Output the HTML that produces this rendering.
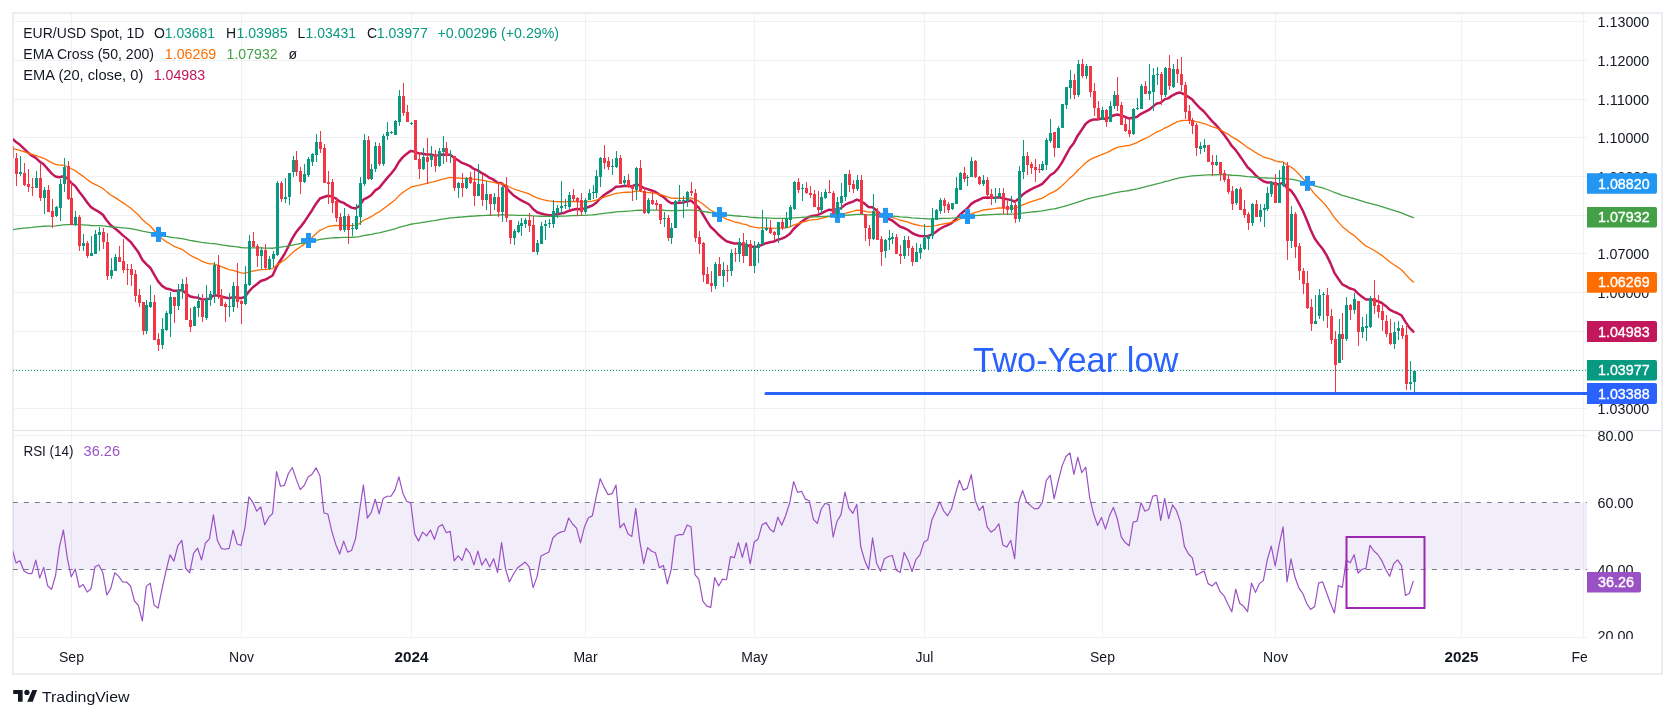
<!DOCTYPE html><html><head><meta charset="utf-8"><style>html,body{margin:0;padding:0;background:#fff;}svg{display:block;will-change:transform}</style></head><body>
<svg width="1675" height="718" viewBox="0 0 1675 718">
<rect width="1675" height="718" fill="#fff"/>
<rect x="13" y="13" width="1649" height="661" fill="none" stroke="#ECEDF2" stroke-width="2"/>
<defs><clipPath id="cp"><rect x="13" y="13" width="1574" height="417"/></clipPath><clipPath id="cr"><rect x="13" y="431" width="1574" height="206.5"/></clipPath><clipPath id="cax"><rect x="1587" y="431" width="74" height="208"/></clipPath><clipPath id="ct"><rect x="13" y="638" width="1574" height="35"/></clipPath></defs>
<line x1="13" y1="21.5" x2="1587" y2="21.5" stroke="#EFF1F2" stroke-width="1"/>
<line x1="13" y1="60.5" x2="1587" y2="60.5" stroke="#EFF1F2" stroke-width="1"/>
<line x1="13" y1="99.5" x2="1587" y2="99.5" stroke="#EFF1F2" stroke-width="1"/>
<line x1="13" y1="137.5" x2="1587" y2="137.5" stroke="#EFF1F2" stroke-width="1"/>
<line x1="13" y1="176.5" x2="1587" y2="176.5" stroke="#EFF1F2" stroke-width="1"/>
<line x1="13" y1="215.5" x2="1587" y2="215.5" stroke="#EFF1F2" stroke-width="1"/>
<line x1="13" y1="253.5" x2="1587" y2="253.5" stroke="#EFF1F2" stroke-width="1"/>
<line x1="13" y1="292.5" x2="1587" y2="292.5" stroke="#EFF1F2" stroke-width="1"/>
<line x1="13" y1="331.5" x2="1587" y2="331.5" stroke="#EFF1F2" stroke-width="1"/>
<line x1="13" y1="369.5" x2="1587" y2="369.5" stroke="#EFF1F2" stroke-width="1"/>
<line x1="13" y1="408.5" x2="1587" y2="408.5" stroke="#EFF1F2" stroke-width="1"/>
<line x1="71.5" y1="13" x2="71.5" y2="637" stroke="#EFF1F2" stroke-width="1"/>
<line x1="241.5" y1="13" x2="241.5" y2="637" stroke="#EFF1F2" stroke-width="1"/>
<line x1="411.5" y1="13" x2="411.5" y2="637" stroke="#EFF1F2" stroke-width="1"/>
<line x1="585.5" y1="13" x2="585.5" y2="637" stroke="#EFF1F2" stroke-width="1"/>
<line x1="754.5" y1="13" x2="754.5" y2="637" stroke="#EFF1F2" stroke-width="1"/>
<line x1="924.5" y1="13" x2="924.5" y2="637" stroke="#EFF1F2" stroke-width="1"/>
<line x1="1102.5" y1="13" x2="1102.5" y2="637" stroke="#EFF1F2" stroke-width="1"/>
<line x1="1275.5" y1="13" x2="1275.5" y2="637" stroke="#EFF1F2" stroke-width="1"/>
<line x1="1461.5" y1="13" x2="1461.5" y2="637" stroke="#EFF1F2" stroke-width="1"/>
<line x1="1583.5" y1="13" x2="1583.5" y2="637" stroke="#EFF1F2" stroke-width="1"/>
<line x1="13" y1="435.5" x2="1587" y2="435.5" stroke="#EFF1F2" stroke-width="1"/>
<line x1="13" y1="637.5" x2="1587" y2="637.5" stroke="#EFF1F2" stroke-width="1"/>
<rect x="13" y="502.5" width="1574" height="67.0" fill="#7E57C2" fill-opacity="0.1"/>
<line x1="12.8" y1="502.5" x2="1587" y2="502.5" stroke="#787B86" stroke-width="1" stroke-dasharray="5 6"/>
<line x1="12.8" y1="569.5" x2="1587" y2="569.5" stroke="#787B86" stroke-width="1" stroke-dasharray="5 6"/>
<g clip-path="url(#cp)">
<polyline points="12.09,138.55 16.04,141.95 19.99,144.86 23.93,148.65 27.88,152.33 31.83,155.70 35.78,157.82 39.72,161.60 43.67,164.28 47.62,168.81 51.56,173.38 55.51,176.60 59.46,177.28 63.41,176.34 67.35,178.47 71.30,182.86 75.25,186.14 79.19,191.81 83.14,196.72 87.09,202.34 91.04,207.17 94.98,209.72 98.93,211.87 102.88,214.77 106.82,220.57 110.77,225.30 114.72,228.31 118.67,231.50 122.61,235.12 126.56,238.40 130.51,241.85 134.46,246.99 138.40,252.30 142.35,259.80 146.30,264.08 150.24,267.71 154.19,274.57 158.14,281.31 162.09,285.87 166.03,288.47 169.98,289.30 173.93,290.84 177.87,290.72 181.82,290.07 185.77,292.97 189.72,296.20 193.66,297.22 197.61,297.62 201.56,299.43 205.50,299.35 209.45,298.85 213.40,295.59 217.35,295.52 221.29,296.51 225.24,297.50 229.19,298.31 233.14,297.14 237.08,297.58 241.03,298.16 244.98,296.81 248.92,291.50 252.87,287.24 256.82,284.24 260.77,280.98 264.71,279.77 268.66,277.79 272.61,275.53 276.55,266.75 280.50,260.27 284.45,254.24 288.40,246.52 292.34,238.32 296.29,231.96 300.24,227.17 304.18,222.14 308.13,216.13 312.08,210.22 316.03,203.72 319.97,198.47 323.92,197.00 327.87,195.77 331.82,196.43 335.76,198.49 339.71,201.50 343.66,202.90 347.60,205.45 351.55,207.60 355.50,208.42 359.45,206.01 363.39,199.72 367.34,197.71 371.29,194.99 375.23,190.35 379.18,187.86 383.13,182.96 387.08,178.14 391.02,173.77 394.97,168.76 398.92,161.83 402.86,157.16 406.81,153.79 410.76,150.88 414.71,151.70 418.65,153.32 422.60,153.69 426.55,154.46 430.50,154.49 434.44,155.54 438.39,155.13 442.34,154.46 446.28,154.65 450.23,154.70 454.18,157.85 458.13,160.24 462.07,162.93 466.02,164.34 469.97,166.12 473.91,168.94 477.86,170.39 481.81,173.18 485.76,175.20 489.70,177.91 493.65,179.74 497.60,182.85 501.54,183.24 505.49,186.55 509.44,191.43 513.39,195.18 517.33,198.05 521.28,200.40 525.23,202.28 529.18,204.49 533.12,208.98 537.07,212.24 541.02,213.55 544.96,214.57 548.91,215.35 552.86,214.93 556.81,214.23 560.75,213.45 564.70,212.66 568.65,210.95 572.59,209.80 576.54,209.01 580.49,209.24 584.44,208.40 588.38,206.97 592.33,205.55 596.28,202.73 600.22,198.46 604.17,195.07 608.12,192.38 612.07,189.87 616.01,186.86 619.96,186.55 623.91,185.95 627.86,186.09 631.80,186.38 635.75,184.60 639.70,185.23 643.64,187.91 647.59,189.10 651.54,190.51 655.49,191.92 659.43,194.56 663.38,196.80 667.33,200.69 671.27,203.25 675.22,203.03 679.17,202.71 683.12,202.42 687.06,201.40 691.01,200.60 694.96,204.13 698.90,207.88 702.85,214.26 706.80,220.85 710.75,227.02 714.69,230.52 718.64,234.81 722.59,238.18 726.54,241.30 730.48,242.44 734.43,243.57 738.38,243.43 742.32,244.67 746.27,244.64 750.22,246.72 754.17,246.73 758.11,246.45 762.06,244.86 766.01,243.22 769.95,242.25 773.90,241.60 777.85,239.74 781.80,238.65 785.74,236.80 789.69,233.97 793.64,229.02 797.58,225.26 801.53,221.73 805.48,219.03 809.43,216.70 813.37,215.75 817.32,215.16 821.27,213.47 825.22,211.45 829.16,209.71 833.11,210.16 837.06,209.36 841.00,208.11 844.95,204.88 848.90,202.99 852.85,201.63 856.79,199.60 860.74,201.00 864.69,203.62 868.63,206.97 872.58,207.35 876.53,210.48 880.48,214.38 884.42,216.80 888.37,218.79 892.32,220.51 896.26,223.65 900.21,226.78 904.16,228.06 908.11,230.00 912.05,233.00 916.00,234.80 919.95,236.08 923.90,236.23 927.84,236.17 931.79,234.46 935.74,232.10 939.68,229.02 943.63,226.83 947.58,225.20 951.53,223.12 955.47,219.77 959.42,215.28 963.37,211.81 967.31,208.46 971.26,203.92 975.21,201.37 979.16,199.74 983.10,197.87 987.05,197.61 991.00,197.76 994.94,197.68 998.89,197.20 1002.84,198.23 1006.79,199.32 1010.73,199.88 1014.68,201.72 1018.63,198.79 1022.58,194.71 1026.52,191.86 1030.47,189.55 1034.42,187.69 1038.36,185.96 1042.31,183.87 1046.26,179.71 1050.21,175.28 1054.15,172.73 1058.10,168.44 1062.05,162.33 1065.99,155.17 1069.94,148.02 1073.89,142.95 1077.84,135.45 1081.78,129.78 1085.73,123.74 1089.68,120.70 1093.62,119.45 1097.57,119.44 1101.52,118.52 1105.47,118.81 1109.41,117.59 1113.36,115.43 1117.31,114.50 1121.26,115.47 1125.20,116.93 1129.15,118.58 1133.10,117.69 1137.04,116.79 1140.99,113.86 1144.94,111.92 1148.89,109.94 1152.83,106.62 1156.78,103.51 1160.73,102.67 1164.67,99.34 1168.62,98.12 1172.57,95.32 1176.52,93.31 1180.46,92.55 1184.41,94.36 1188.36,96.85 1192.30,99.58 1196.25,104.24 1200.20,108.26 1204.15,111.75 1208.09,116.50 1212.04,121.10 1215.99,124.99 1219.94,129.67 1223.88,134.44 1227.83,139.90 1231.78,145.98 1235.72,150.09 1239.67,155.77 1243.62,161.37 1247.57,167.27 1251.51,170.75 1255.46,175.12 1259.41,178.48 1263.35,181.32 1267.30,182.44 1271.25,182.38 1275.20,184.31 1279.14,184.31 1283.09,182.57 1287.04,188.13 1290.98,190.60 1294.93,196.01 1298.88,203.13 1302.83,210.80 1306.77,220.06 1310.72,229.93 1314.67,238.56 1318.62,243.98 1322.56,248.72 1326.51,255.08 1330.46,263.15 1334.40,272.83 1338.35,278.69 1342.30,284.41 1346.25,286.37 1350.19,288.58 1354.14,289.59 1358.09,293.60 1362.03,296.79 1365.98,299.58 1369.93,299.43 1373.88,300.09 1377.82,301.18 1381.77,303.00 1385.72,305.92 1389.66,309.57 1393.61,311.69 1397.56,313.24 1401.51,315.36 1405.45,321.90 1409.40,327.61 1413.35,331.70" fill="none" stroke="#C2185B" stroke-width="2.5" stroke-linejoin="round" stroke-linecap="round"/>
<polyline points="12.09,148.39 16.04,149.41 19.99,150.31 23.93,151.66 27.88,153.06 31.83,154.41 35.78,155.34 39.72,156.99 43.67,158.28 47.62,160.38 51.56,162.59 55.51,164.34 59.46,165.10 63.41,165.19 67.35,166.50 71.30,168.78 75.25,170.68 79.19,173.63 83.14,176.36 87.09,179.47 91.04,182.36 94.98,184.38 98.93,186.26 102.88,188.46 106.82,191.88 110.77,194.95 114.72,197.38 118.67,199.91 122.61,202.64 126.56,205.26 130.51,207.98 134.46,211.43 138.40,215.01 142.35,219.56 146.30,222.90 150.24,226.01 154.19,230.47 158.14,234.97 162.09,238.67 166.03,241.59 169.98,243.77 173.93,246.19 177.87,247.89 181.82,249.30 185.77,252.09 189.72,255.03 193.66,257.06 197.61,258.80 201.56,261.07 205.50,262.54 209.45,263.78 213.40,263.81 217.35,265.03 221.29,266.63 225.24,268.21 229.19,269.70 233.14,270.33 237.08,271.57 241.03,272.82 244.98,273.26 248.92,272.00 252.87,271.01 256.82,270.41 260.77,269.61 264.71,269.56 268.66,269.15 272.61,268.55 276.55,265.21 280.50,262.61 284.45,260.03 288.40,256.62 292.34,252.85 296.29,249.66 300.24,246.99 304.18,244.15 308.13,240.81 312.08,237.41 316.03,233.67 319.97,230.33 323.92,228.47 327.87,226.73 331.82,225.79 335.76,225.49 339.71,225.67 343.66,225.30 347.60,225.47 351.55,225.57 355.50,225.20 359.45,223.55 363.39,220.27 367.34,218.64 371.29,216.70 375.23,213.94 379.18,211.99 383.13,209.02 387.08,206.02 391.02,203.12 394.97,199.91 398.92,195.83 402.86,192.58 406.81,189.80 410.76,187.19 414.71,186.10 418.65,185.42 422.60,184.31 426.55,183.43 430.50,182.31 434.44,181.65 438.39,180.46 442.34,179.19 446.28,178.30 450.23,177.39 454.18,177.80 458.13,178.00 462.07,178.41 466.02,178.38 469.97,178.56 473.91,179.24 477.86,179.43 481.81,180.23 485.76,180.78 489.70,181.68 493.65,182.29 497.60,183.47 501.54,183.60 505.49,184.95 509.44,187.02 513.39,188.74 517.33,190.17 521.28,191.45 525.23,192.58 529.18,193.87 533.12,196.13 537.07,197.98 541.02,199.08 544.96,200.07 548.91,200.95 552.86,201.35 556.81,201.59 560.75,201.76 564.70,201.90 568.65,201.62 572.59,201.51 576.54,201.51 580.49,201.90 584.44,201.84 588.38,201.51 592.33,201.14 596.28,200.15 600.22,198.49 604.17,197.09 608.12,195.91 612.07,194.74 616.01,193.30 619.96,192.93 623.91,192.43 627.86,192.23 631.80,192.11 635.75,191.15 639.70,191.16 643.64,192.03 647.59,192.35 651.54,192.81 655.49,193.30 659.43,194.33 663.38,195.26 667.33,196.92 671.27,198.13 675.22,198.24 679.17,198.29 683.12,198.35 687.06,198.09 691.01,197.89 694.96,199.45 698.90,201.17 702.85,204.06 706.80,207.18 710.75,210.25 714.69,212.35 718.64,214.83 722.59,217.00 726.54,219.12 730.48,220.46 734.43,221.78 738.38,222.58 742.32,223.91 746.27,224.71 750.22,226.35 754.17,227.15 758.11,227.80 762.06,227.88 766.01,227.87 769.95,228.08 773.90,228.36 777.85,228.12 781.80,228.12 785.74,227.77 789.69,226.96 793.64,225.20 797.58,223.80 801.53,222.40 805.48,221.27 809.43,220.22 813.37,219.69 817.32,219.29 821.27,218.43 825.22,217.41 829.16,216.46 833.11,216.38 837.06,215.81 841.00,215.04 844.95,213.44 848.90,212.32 852.85,211.39 856.79,210.18 860.74,210.34 864.69,211.05 868.63,212.14 872.58,212.09 876.53,213.19 880.48,214.70 884.42,215.68 888.37,216.54 892.32,217.34 896.26,218.76 900.21,220.24 904.16,221.02 908.11,222.10 912.05,223.64 916.00,224.75 919.95,225.67 923.90,226.14 927.84,226.51 931.79,226.19 935.74,225.54 939.68,224.53 943.63,223.80 947.58,223.25 951.53,222.47 955.47,221.12 959.42,219.21 963.37,217.63 967.31,216.02 971.26,213.86 975.21,212.42 979.16,211.31 983.10,210.09 987.05,209.50 991.00,209.10 994.94,208.62 998.89,208.00 1002.84,208.00 1006.79,208.06 1010.73,207.95 1014.68,208.39 1018.63,206.92 1022.58,204.92 1026.52,203.35 1030.47,201.95 1034.42,200.70 1038.36,199.47 1042.31,198.08 1046.26,195.81 1050.21,193.36 1054.15,191.60 1058.10,189.09 1062.05,185.77 1065.99,181.90 1069.94,177.91 1073.89,174.65 1077.84,170.31 1081.78,166.61 1085.73,162.68 1089.68,159.90 1093.62,157.85 1097.57,156.34 1101.52,154.51 1105.47,153.22 1109.41,151.37 1113.36,149.16 1117.31,147.45 1121.26,146.56 1125.20,145.94 1129.15,145.48 1133.10,144.06 1137.04,142.66 1140.99,140.44 1144.94,138.60 1148.89,136.73 1152.83,134.32 1156.78,131.95 1160.73,130.49 1164.67,128.03 1168.62,126.40 1172.57,124.14 1176.52,122.18 1180.46,120.74 1184.41,120.37 1188.36,120.38 1192.30,120.58 1196.25,121.67 1200.20,122.65 1204.15,123.52 1208.09,125.01 1212.04,126.57 1215.99,127.96 1219.94,129.77 1223.88,131.73 1227.83,134.09 1231.78,136.82 1235.72,138.87 1239.67,141.65 1243.62,144.51 1247.57,147.60 1251.51,149.80 1255.46,152.43 1259.41,154.70 1263.35,156.80 1267.30,158.22 1271.25,159.15 1275.20,160.85 1279.14,161.77 1283.09,161.94 1287.04,165.04 1290.98,166.96 1294.93,170.12 1298.88,174.06 1302.83,178.36 1306.77,183.45 1310.72,188.95 1314.67,194.11 1318.62,198.08 1322.56,201.83 1326.51,206.29 1330.46,211.53 1334.40,217.54 1338.35,222.12 1342.30,226.69 1346.25,229.76 1350.19,232.89 1354.14,235.49 1358.09,239.27 1362.03,242.71 1365.98,245.98 1369.93,248.02 1373.88,250.31 1377.82,252.71 1381.77,255.36 1385.72,258.43 1389.66,261.79 1393.61,264.54 1397.56,267.03 1401.51,269.71 1405.45,274.19 1409.40,278.42 1413.35,282.03" fill="none" stroke="#FF6D00" stroke-width="1.3" stroke-linejoin="round" stroke-linecap="round"/>
<polyline points="12.09,229.78 16.04,229.23 19.99,228.66 23.93,228.22 27.88,227.82 31.83,227.42 35.78,226.93 39.72,226.63 43.67,226.27 47.62,226.12 51.56,226.03 55.51,225.84 59.46,225.42 63.41,224.85 67.35,224.59 71.30,224.59 75.25,224.51 79.19,224.72 83.14,224.91 87.09,225.22 91.04,225.49 94.98,225.58 98.93,225.64 102.88,225.81 106.82,226.31 110.77,226.74 114.72,227.04 118.67,227.39 122.61,227.81 126.56,228.22 130.51,228.69 134.46,229.35 138.40,230.08 142.35,231.09 146.30,231.82 150.24,232.52 154.19,233.59 158.14,234.70 162.09,235.64 166.03,236.41 169.98,237.02 173.93,237.70 177.87,238.21 181.82,238.67 185.77,239.48 189.72,240.35 193.66,241.01 197.61,241.62 201.56,242.36 205.50,242.92 209.45,243.43 213.40,243.64 217.35,244.15 221.29,244.77 225.24,245.38 229.19,245.99 233.14,246.39 237.08,246.94 241.03,247.50 244.98,247.86 248.92,247.80 252.87,247.79 256.82,247.87 260.77,247.89 264.71,248.09 268.66,248.20 272.61,248.26 276.55,247.61 280.50,247.12 284.45,246.62 288.40,245.89 292.34,245.04 296.29,244.31 300.24,243.69 304.18,243.00 308.13,242.16 312.08,241.29 316.03,240.30 319.97,239.39 323.92,238.83 327.87,238.28 331.82,237.93 335.76,237.73 339.71,237.65 343.66,237.44 347.60,237.36 351.55,237.27 355.50,237.06 359.45,236.52 363.39,235.56 367.34,235.00 371.29,234.34 375.23,233.46 379.18,232.78 383.13,231.82 387.08,230.83 391.02,229.85 394.97,228.76 398.92,227.44 402.86,226.30 406.81,225.26 410.76,224.25 414.71,223.60 418.65,223.06 422.60,222.40 426.55,221.80 430.50,221.13 434.44,220.58 438.39,219.89 442.34,219.17 446.28,218.55 450.23,217.92 454.18,217.62 458.13,217.27 462.07,216.99 466.02,216.60 469.97,216.26 473.91,216.06 477.86,215.74 481.81,215.58 485.76,215.37 489.70,215.25 493.65,215.07 497.60,215.05 501.54,214.77 505.49,214.80 509.44,215.03 513.39,215.19 517.33,215.29 521.28,215.36 525.23,215.41 529.18,215.51 533.12,215.87 537.07,216.14 541.02,216.24 544.96,216.32 548.91,216.38 552.86,216.33 556.81,216.24 560.75,216.14 564.70,216.03 568.65,215.82 572.59,215.65 576.54,215.51 580.49,215.47 584.44,215.32 588.38,215.10 592.33,214.87 596.28,214.48 600.22,213.92 604.17,213.41 608.12,212.95 612.07,212.48 616.01,211.94 619.96,211.66 623.91,211.35 627.86,211.11 631.80,210.89 635.75,210.46 639.70,210.27 643.64,210.30 647.59,210.20 651.54,210.14 655.49,210.09 659.43,210.19 663.38,210.26 667.33,210.54 671.27,210.71 675.22,210.61 679.17,210.50 683.12,210.39 687.06,210.21 691.01,210.04 694.96,210.31 698.90,210.64 702.85,211.28 706.80,212.00 710.75,212.73 714.69,213.24 718.64,213.86 722.59,214.42 726.54,214.98 730.48,215.36 734.43,215.75 738.38,216.01 742.32,216.41 746.27,216.69 750.22,217.19 754.17,217.48 758.11,217.74 762.06,217.86 766.01,217.96 769.95,218.11 773.90,218.28 777.85,218.32 781.80,218.42 785.74,218.43 789.69,218.32 793.64,217.95 797.58,217.67 801.53,217.38 805.48,217.14 809.43,216.92 813.37,216.81 817.32,216.74 821.27,216.55 825.22,216.31 829.16,216.08 833.11,216.06 837.06,215.92 841.00,215.72 844.95,215.31 848.90,215.01 852.85,214.75 856.79,214.40 860.74,214.40 864.69,214.54 868.63,214.78 872.58,214.75 876.53,215.00 880.48,215.36 884.42,215.61 888.37,215.83 892.32,216.03 896.26,216.41 900.21,216.81 904.16,217.04 908.11,217.35 912.05,217.79 916.00,218.13 919.95,218.43 923.90,218.62 927.84,218.79 931.79,218.78 935.74,218.69 939.68,218.51 943.63,218.38 947.58,218.30 951.53,218.15 955.47,217.85 959.42,217.40 963.37,217.01 967.31,216.61 971.26,216.06 975.21,215.67 979.16,215.36 983.10,215.00 987.05,214.81 991.00,214.65 994.94,214.47 998.89,214.26 1002.84,214.20 1006.79,214.15 1010.73,214.06 1014.68,214.11 1018.63,213.68 1022.58,213.11 1026.52,212.63 1030.47,212.18 1034.42,211.76 1038.36,211.34 1042.31,210.87 1046.26,210.17 1050.21,209.40 1054.15,208.79 1058.10,207.99 1062.05,206.96 1065.99,205.76 1069.94,204.51 1073.89,203.42 1077.84,202.04 1081.78,200.78 1085.73,199.44 1089.68,198.37 1093.62,197.47 1097.57,196.69 1101.52,195.83 1105.47,195.09 1109.41,194.20 1113.36,193.21 1117.31,192.34 1121.26,191.67 1125.20,191.06 1129.15,190.50 1133.10,189.69 1137.04,188.88 1140.99,187.86 1144.94,186.92 1148.89,185.96 1152.83,184.86 1156.78,183.76 1160.73,182.87 1164.67,181.73 1168.62,180.78 1172.57,179.66 1176.52,178.61 1180.46,177.69 1184.41,177.03 1188.36,176.46 1192.30,175.96 1196.25,175.68 1200.20,175.39 1204.15,175.09 1208.09,174.96 1212.04,174.86 1215.99,174.73 1219.94,174.72 1223.88,174.77 1227.83,174.94 1231.78,175.23 1235.72,175.37 1239.67,175.71 1243.62,176.09 1247.57,176.56 1251.51,176.83 1255.46,177.23 1259.41,177.56 1263.35,177.87 1267.30,178.02 1271.25,178.06 1275.20,178.30 1279.14,178.36 1283.09,178.24 1287.04,178.86 1290.98,179.21 1294.93,179.89 1298.88,180.79 1302.83,181.82 1306.77,183.07 1310.72,184.47 1314.67,185.83 1318.62,186.92 1322.56,187.98 1326.51,189.25 1330.46,190.75 1334.40,192.48 1338.35,193.89 1342.30,195.33 1346.25,196.42 1350.19,197.55 1354.14,198.56 1358.09,199.89 1362.03,201.15 1365.98,202.39 1369.93,203.35 1373.88,204.37 1377.82,205.44 1381.77,206.58 1385.72,207.85 1389.66,209.20 1393.61,210.42 1397.56,211.59 1401.51,212.82 1405.45,214.53 1409.40,216.19 1413.35,217.73" fill="none" stroke="#43A047" stroke-width="1.3" stroke-linejoin="round" stroke-linecap="round"/>
</g>
<rect x="151.0" y="232.0" width="15" height="4.8" fill="#2196F3"/><rect x="156.0" y="226.9" width="5" height="15" fill="#2196F3"/>
<rect x="301.0" y="238.1" width="15" height="4.8" fill="#2196F3"/><rect x="306.0" y="233.0" width="5" height="15" fill="#2196F3"/>
<rect x="712.0" y="212.1" width="15" height="4.8" fill="#2196F3"/><rect x="717.0" y="207.0" width="5" height="15" fill="#2196F3"/>
<rect x="830.0" y="213.0" width="15" height="4.8" fill="#2196F3"/><rect x="835.0" y="207.9" width="5" height="15" fill="#2196F3"/>
<rect x="878.0" y="213.0" width="15" height="4.8" fill="#2196F3"/><rect x="883.0" y="207.9" width="5" height="15" fill="#2196F3"/>
<rect x="960.0" y="214.1" width="15" height="4.8" fill="#2196F3"/><rect x="965.0" y="209.0" width="5" height="15" fill="#2196F3"/>
<rect x="1300.0" y="181.0" width="15" height="4.8" fill="#2196F3"/><rect x="1305.0" y="175.9" width="5" height="15" fill="#2196F3"/>
<g clip-path="url(#cp)">
<rect x="12" y="145" width="1" height="14" fill="#F23645" opacity="0.6"/>
<rect x="11" y="146" width="3" height="12" fill="#F23645" opacity="0.6"/>
<rect x="16" y="153" width="1" height="33" fill="#F23645"/>
<rect x="15" y="158" width="3" height="16" fill="#F23645"/>
<rect x="20" y="156" width="1" height="20" fill="#089981"/>
<rect x="19" y="172" width="3" height="2" fill="#089981"/>
<rect x="24" y="163" width="1" height="23" fill="#F23645"/>
<rect x="23" y="173" width="3" height="12" fill="#F23645"/>
<rect x="28" y="169" width="1" height="23" fill="#F23645"/>
<rect x="27" y="184" width="3" height="3" fill="#F23645"/>
<rect x="32" y="178" width="1" height="18" fill="#F23645"/>
<rect x="31" y="187" width="3" height="1" fill="#F23645"/>
<rect x="36" y="171" width="1" height="17" fill="#089981"/>
<rect x="35" y="178" width="3" height="10" fill="#089981"/>
<rect x="40" y="164" width="1" height="37" fill="#F23645"/>
<rect x="39" y="178" width="3" height="20" fill="#F23645"/>
<rect x="44" y="187" width="1" height="27" fill="#089981"/>
<rect x="43" y="190" width="3" height="8" fill="#089981"/>
<rect x="48" y="185" width="1" height="27" fill="#F23645"/>
<rect x="47" y="190" width="3" height="22" fill="#F23645"/>
<rect x="52" y="199" width="1" height="29" fill="#F23645"/>
<rect x="51" y="211" width="3" height="6" fill="#F23645"/>
<rect x="56" y="206" width="1" height="11" fill="#089981"/>
<rect x="55" y="207" width="3" height="9" fill="#089981"/>
<rect x="60" y="179" width="1" height="42" fill="#089981"/>
<rect x="59" y="184" width="3" height="24" fill="#089981"/>
<rect x="64" y="158" width="1" height="34" fill="#089981"/>
<rect x="63" y="167" width="3" height="17" fill="#089981"/>
<rect x="68" y="161" width="1" height="39" fill="#F23645"/>
<rect x="67" y="166" width="3" height="33" fill="#F23645"/>
<rect x="71" y="182" width="1" height="43" fill="#F23645"/>
<rect x="70" y="198" width="3" height="27" fill="#F23645"/>
<rect x="75" y="211" width="1" height="15" fill="#089981"/>
<rect x="74" y="217" width="3" height="8" fill="#089981"/>
<rect x="79" y="215" width="1" height="36" fill="#F23645"/>
<rect x="78" y="217" width="3" height="29" fill="#F23645"/>
<rect x="83" y="234" width="1" height="17" fill="#089981"/>
<rect x="82" y="243" width="3" height="3" fill="#089981"/>
<rect x="87" y="241" width="1" height="17" fill="#F23645"/>
<rect x="86" y="243" width="3" height="13" fill="#F23645"/>
<rect x="91" y="236" width="1" height="20" fill="#089981"/>
<rect x="90" y="253" width="3" height="3" fill="#089981"/>
<rect x="95" y="230" width="1" height="24" fill="#089981"/>
<rect x="94" y="234" width="3" height="20" fill="#089981"/>
<rect x="99" y="227" width="1" height="24" fill="#089981"/>
<rect x="98" y="232" width="3" height="3" fill="#089981"/>
<rect x="103" y="228" width="1" height="21" fill="#F23645"/>
<rect x="102" y="232" width="3" height="10" fill="#F23645"/>
<rect x="107" y="233" width="1" height="47" fill="#F23645"/>
<rect x="106" y="242" width="3" height="34" fill="#F23645"/>
<rect x="111" y="258" width="1" height="21" fill="#089981"/>
<rect x="110" y="270" width="3" height="6" fill="#089981"/>
<rect x="115" y="254" width="1" height="17" fill="#089981"/>
<rect x="114" y="257" width="3" height="14" fill="#089981"/>
<rect x="119" y="246" width="1" height="16" fill="#F23645"/>
<rect x="118" y="257" width="3" height="5" fill="#F23645"/>
<rect x="123" y="239" width="1" height="34" fill="#F23645"/>
<rect x="122" y="261" width="3" height="9" fill="#F23645"/>
<rect x="127" y="264" width="1" height="21" fill="#F23645"/>
<rect x="126" y="269" width="3" height="1" fill="#F23645"/>
<rect x="131" y="264" width="1" height="22" fill="#F23645"/>
<rect x="130" y="269" width="3" height="6" fill="#F23645"/>
<rect x="135" y="270" width="1" height="32" fill="#F23645"/>
<rect x="134" y="274" width="3" height="22" fill="#F23645"/>
<rect x="139" y="289" width="1" height="18" fill="#F23645"/>
<rect x="138" y="295" width="3" height="8" fill="#F23645"/>
<rect x="143" y="302" width="1" height="33" fill="#F23645"/>
<rect x="142" y="302" width="3" height="29" fill="#F23645"/>
<rect x="146" y="300" width="1" height="34" fill="#089981"/>
<rect x="145" y="305" width="3" height="26" fill="#089981"/>
<rect x="150" y="285" width="1" height="23" fill="#089981"/>
<rect x="149" y="302" width="3" height="5" fill="#089981"/>
<rect x="154" y="295" width="1" height="45" fill="#F23645"/>
<rect x="153" y="302" width="3" height="38" fill="#F23645"/>
<rect x="158" y="333" width="1" height="18" fill="#F23645"/>
<rect x="157" y="339" width="3" height="6" fill="#F23645"/>
<rect x="162" y="318" width="1" height="31" fill="#089981"/>
<rect x="161" y="329" width="3" height="16" fill="#089981"/>
<rect x="166" y="311" width="1" height="20" fill="#089981"/>
<rect x="165" y="313" width="3" height="17" fill="#089981"/>
<rect x="170" y="292" width="1" height="45" fill="#089981"/>
<rect x="169" y="297" width="3" height="17" fill="#089981"/>
<rect x="174" y="297" width="1" height="26" fill="#F23645"/>
<rect x="173" y="297" width="3" height="9" fill="#F23645"/>
<rect x="178" y="284" width="1" height="26" fill="#089981"/>
<rect x="177" y="290" width="3" height="16" fill="#089981"/>
<rect x="182" y="279" width="1" height="20" fill="#089981"/>
<rect x="181" y="284" width="3" height="7" fill="#089981"/>
<rect x="186" y="277" width="1" height="43" fill="#F23645"/>
<rect x="185" y="284" width="3" height="36" fill="#F23645"/>
<rect x="190" y="308" width="1" height="24" fill="#F23645"/>
<rect x="189" y="320" width="3" height="7" fill="#F23645"/>
<rect x="194" y="306" width="1" height="20" fill="#089981"/>
<rect x="193" y="307" width="3" height="19" fill="#089981"/>
<rect x="198" y="294" width="1" height="23" fill="#089981"/>
<rect x="197" y="301" width="3" height="7" fill="#089981"/>
<rect x="202" y="294" width="1" height="28" fill="#F23645"/>
<rect x="201" y="301" width="3" height="16" fill="#F23645"/>
<rect x="206" y="285" width="1" height="35" fill="#089981"/>
<rect x="205" y="299" width="3" height="19" fill="#089981"/>
<rect x="210" y="291" width="1" height="15" fill="#089981"/>
<rect x="209" y="294" width="3" height="6" fill="#089981"/>
<rect x="214" y="262" width="1" height="41" fill="#089981"/>
<rect x="213" y="265" width="3" height="30" fill="#089981"/>
<rect x="218" y="255" width="1" height="44" fill="#F23645"/>
<rect x="217" y="265" width="3" height="30" fill="#F23645"/>
<rect x="221" y="289" width="1" height="17" fill="#F23645"/>
<rect x="220" y="296" width="3" height="10" fill="#F23645"/>
<rect x="225" y="302" width="1" height="20" fill="#F23645"/>
<rect x="224" y="304" width="3" height="3" fill="#F23645"/>
<rect x="229" y="293" width="1" height="24" fill="#089981"/>
<rect x="228" y="306" width="3" height="1" fill="#089981"/>
<rect x="233" y="282" width="1" height="30" fill="#089981"/>
<rect x="232" y="286" width="3" height="21" fill="#089981"/>
<rect x="237" y="263" width="1" height="45" fill="#F23645"/>
<rect x="236" y="286" width="3" height="16" fill="#F23645"/>
<rect x="241" y="300" width="1" height="24" fill="#F23645"/>
<rect x="240" y="301" width="3" height="3" fill="#F23645"/>
<rect x="245" y="266" width="1" height="39" fill="#089981"/>
<rect x="244" y="284" width="3" height="20" fill="#089981"/>
<rect x="249" y="235" width="1" height="51" fill="#089981"/>
<rect x="248" y="241" width="3" height="44" fill="#089981"/>
<rect x="253" y="232" width="1" height="15" fill="#F23645"/>
<rect x="252" y="241" width="3" height="6" fill="#F23645"/>
<rect x="257" y="244" width="1" height="23" fill="#F23645"/>
<rect x="256" y="246" width="3" height="10" fill="#F23645"/>
<rect x="261" y="247" width="1" height="22" fill="#089981"/>
<rect x="260" y="250" width="3" height="6" fill="#089981"/>
<rect x="265" y="244" width="1" height="25" fill="#F23645"/>
<rect x="264" y="250" width="3" height="18" fill="#F23645"/>
<rect x="269" y="256" width="1" height="14" fill="#089981"/>
<rect x="268" y="259" width="3" height="10" fill="#089981"/>
<rect x="273" y="251" width="1" height="16" fill="#089981"/>
<rect x="272" y="254" width="3" height="5" fill="#089981"/>
<rect x="277" y="181" width="1" height="75" fill="#089981"/>
<rect x="276" y="183" width="3" height="72" fill="#089981"/>
<rect x="281" y="181" width="1" height="21" fill="#F23645"/>
<rect x="280" y="183" width="3" height="16" fill="#F23645"/>
<rect x="285" y="178" width="1" height="25" fill="#089981"/>
<rect x="284" y="197" width="3" height="2" fill="#089981"/>
<rect x="289" y="173" width="1" height="32" fill="#089981"/>
<rect x="288" y="173" width="3" height="24" fill="#089981"/>
<rect x="293" y="156" width="1" height="21" fill="#089981"/>
<rect x="292" y="160" width="3" height="12" fill="#089981"/>
<rect x="296" y="151" width="1" height="25" fill="#F23645"/>
<rect x="295" y="160" width="3" height="12" fill="#F23645"/>
<rect x="300" y="167" width="1" height="27" fill="#F23645"/>
<rect x="299" y="171" width="3" height="11" fill="#F23645"/>
<rect x="304" y="164" width="1" height="19" fill="#089981"/>
<rect x="303" y="174" width="3" height="8" fill="#089981"/>
<rect x="308" y="157" width="1" height="20" fill="#089981"/>
<rect x="307" y="159" width="3" height="16" fill="#089981"/>
<rect x="312" y="153" width="1" height="13" fill="#089981"/>
<rect x="311" y="154" width="3" height="8" fill="#089981"/>
<rect x="316" y="134" width="1" height="28" fill="#089981"/>
<rect x="315" y="142" width="3" height="13" fill="#089981"/>
<rect x="320" y="131" width="1" height="22" fill="#F23645"/>
<rect x="319" y="142" width="3" height="7" fill="#F23645"/>
<rect x="324" y="144" width="1" height="39" fill="#F23645"/>
<rect x="323" y="148" width="3" height="35" fill="#F23645"/>
<rect x="328" y="171" width="1" height="33" fill="#F23645"/>
<rect x="327" y="182" width="3" height="2" fill="#F23645"/>
<rect x="332" y="179" width="1" height="34" fill="#F23645"/>
<rect x="331" y="182" width="3" height="21" fill="#F23645"/>
<rect x="336" y="197" width="1" height="25" fill="#F23645"/>
<rect x="335" y="201" width="3" height="17" fill="#F23645"/>
<rect x="340" y="213" width="1" height="18" fill="#F23645"/>
<rect x="339" y="217" width="3" height="13" fill="#F23645"/>
<rect x="344" y="208" width="1" height="24" fill="#089981"/>
<rect x="343" y="216" width="3" height="14" fill="#089981"/>
<rect x="348" y="214" width="1" height="30" fill="#F23645"/>
<rect x="347" y="216" width="3" height="14" fill="#F23645"/>
<rect x="352" y="223" width="1" height="13" fill="#089981"/>
<rect x="351" y="228" width="3" height="1" fill="#089981"/>
<rect x="356" y="204" width="1" height="26" fill="#089981"/>
<rect x="355" y="216" width="3" height="13" fill="#089981"/>
<rect x="360" y="177" width="1" height="48" fill="#089981"/>
<rect x="359" y="183" width="3" height="34" fill="#089981"/>
<rect x="364" y="134" width="1" height="52" fill="#089981"/>
<rect x="363" y="140" width="3" height="44" fill="#089981"/>
<rect x="368" y="136" width="1" height="44" fill="#F23645"/>
<rect x="367" y="140" width="3" height="39" fill="#F23645"/>
<rect x="371" y="164" width="1" height="16" fill="#089981"/>
<rect x="370" y="169" width="3" height="10" fill="#089981"/>
<rect x="375" y="142" width="1" height="30" fill="#089981"/>
<rect x="374" y="146" width="3" height="23" fill="#089981"/>
<rect x="379" y="143" width="1" height="23" fill="#F23645"/>
<rect x="378" y="146" width="3" height="18" fill="#F23645"/>
<rect x="383" y="134" width="1" height="32" fill="#089981"/>
<rect x="382" y="136" width="3" height="28" fill="#089981"/>
<rect x="387" y="122" width="1" height="18" fill="#089981"/>
<rect x="386" y="132" width="3" height="4" fill="#089981"/>
<rect x="391" y="131" width="1" height="3" fill="#089981"/>
<rect x="390" y="132" width="3" height="1" fill="#089981"/>
<rect x="395" y="120" width="1" height="15" fill="#089981"/>
<rect x="394" y="121" width="3" height="14" fill="#089981"/>
<rect x="399" y="90" width="1" height="36" fill="#089981"/>
<rect x="398" y="96" width="3" height="26" fill="#089981"/>
<rect x="403" y="83" width="1" height="33" fill="#F23645"/>
<rect x="402" y="96" width="3" height="17" fill="#F23645"/>
<rect x="407" y="105" width="1" height="17" fill="#F23645"/>
<rect x="406" y="112" width="3" height="10" fill="#F23645"/>
<rect x="411" y="122" width="1" height="3" fill="#089981"/>
<rect x="410" y="123" width="3" height="1" fill="#089981"/>
<rect x="415" y="120" width="1" height="40" fill="#F23645"/>
<rect x="414" y="120" width="3" height="40" fill="#F23645"/>
<rect x="419" y="152" width="1" height="27" fill="#F23645"/>
<rect x="418" y="159" width="3" height="10" fill="#F23645"/>
<rect x="423" y="148" width="1" height="22" fill="#089981"/>
<rect x="422" y="157" width="3" height="12" fill="#089981"/>
<rect x="427" y="138" width="1" height="46" fill="#F23645"/>
<rect x="426" y="157" width="3" height="5" fill="#F23645"/>
<rect x="431" y="146" width="1" height="21" fill="#089981"/>
<rect x="430" y="155" width="3" height="5" fill="#089981"/>
<rect x="435" y="150" width="1" height="22" fill="#F23645"/>
<rect x="434" y="155" width="3" height="11" fill="#F23645"/>
<rect x="439" y="148" width="1" height="19" fill="#089981"/>
<rect x="438" y="151" width="3" height="15" fill="#089981"/>
<rect x="443" y="136" width="1" height="28" fill="#089981"/>
<rect x="442" y="148" width="3" height="4" fill="#089981"/>
<rect x="446" y="142" width="1" height="20" fill="#F23645"/>
<rect x="445" y="148" width="3" height="8" fill="#F23645"/>
<rect x="450" y="150" width="1" height="13" fill="#089981"/>
<rect x="449" y="155" width="3" height="1" fill="#089981"/>
<rect x="454" y="156" width="1" height="35" fill="#F23645"/>
<rect x="453" y="156" width="3" height="32" fill="#F23645"/>
<rect x="458" y="182" width="1" height="16" fill="#089981"/>
<rect x="457" y="183" width="3" height="5" fill="#089981"/>
<rect x="462" y="173" width="1" height="24" fill="#F23645"/>
<rect x="461" y="183" width="3" height="5" fill="#F23645"/>
<rect x="466" y="177" width="1" height="12" fill="#089981"/>
<rect x="465" y="178" width="3" height="10" fill="#089981"/>
<rect x="470" y="172" width="1" height="12" fill="#F23645"/>
<rect x="469" y="177" width="3" height="6" fill="#F23645"/>
<rect x="474" y="170" width="1" height="36" fill="#F23645"/>
<rect x="473" y="182" width="3" height="14" fill="#F23645"/>
<rect x="478" y="164" width="1" height="32" fill="#089981"/>
<rect x="477" y="184" width="3" height="12" fill="#089981"/>
<rect x="482" y="175" width="1" height="31" fill="#F23645"/>
<rect x="481" y="184" width="3" height="16" fill="#F23645"/>
<rect x="486" y="181" width="1" height="29" fill="#089981"/>
<rect x="485" y="194" width="3" height="6" fill="#089981"/>
<rect x="490" y="194" width="1" height="22" fill="#F23645"/>
<rect x="489" y="194" width="3" height="10" fill="#F23645"/>
<rect x="494" y="193" width="1" height="17" fill="#089981"/>
<rect x="493" y="197" width="3" height="7" fill="#089981"/>
<rect x="498" y="182" width="1" height="35" fill="#F23645"/>
<rect x="497" y="197" width="3" height="15" fill="#F23645"/>
<rect x="502" y="186" width="1" height="36" fill="#089981"/>
<rect x="501" y="187" width="3" height="25" fill="#089981"/>
<rect x="506" y="177" width="1" height="45" fill="#F23645"/>
<rect x="505" y="186" width="3" height="32" fill="#F23645"/>
<rect x="510" y="220" width="1" height="24" fill="#F23645"/>
<rect x="509" y="220" width="3" height="18" fill="#F23645"/>
<rect x="514" y="229" width="1" height="16" fill="#089981"/>
<rect x="513" y="231" width="3" height="7" fill="#089981"/>
<rect x="518" y="221" width="1" height="12" fill="#089981"/>
<rect x="517" y="225" width="3" height="7" fill="#089981"/>
<rect x="521" y="218" width="1" height="18" fill="#089981"/>
<rect x="520" y="223" width="3" height="3" fill="#089981"/>
<rect x="525" y="218" width="1" height="10" fill="#089981"/>
<rect x="524" y="220" width="3" height="4" fill="#089981"/>
<rect x="529" y="213" width="1" height="19" fill="#F23645"/>
<rect x="528" y="220" width="3" height="6" fill="#F23645"/>
<rect x="533" y="216" width="1" height="36" fill="#F23645"/>
<rect x="532" y="225" width="3" height="27" fill="#F23645"/>
<rect x="537" y="240" width="1" height="15" fill="#089981"/>
<rect x="536" y="243" width="3" height="9" fill="#089981"/>
<rect x="541" y="222" width="1" height="22" fill="#089981"/>
<rect x="540" y="226" width="3" height="18" fill="#089981"/>
<rect x="545" y="220" width="1" height="20" fill="#089981"/>
<rect x="544" y="224" width="3" height="2" fill="#089981"/>
<rect x="549" y="219" width="1" height="9" fill="#089981"/>
<rect x="548" y="223" width="3" height="1" fill="#089981"/>
<rect x="553" y="200" width="1" height="28" fill="#089981"/>
<rect x="552" y="211" width="3" height="13" fill="#089981"/>
<rect x="557" y="205" width="1" height="13" fill="#089981"/>
<rect x="556" y="208" width="3" height="5" fill="#089981"/>
<rect x="561" y="181" width="1" height="33" fill="#089981"/>
<rect x="560" y="206" width="3" height="2" fill="#089981"/>
<rect x="565" y="199" width="1" height="10" fill="#089981"/>
<rect x="564" y="205" width="3" height="1" fill="#089981"/>
<rect x="569" y="192" width="1" height="17" fill="#089981"/>
<rect x="568" y="195" width="3" height="12" fill="#089981"/>
<rect x="573" y="189" width="1" height="13" fill="#F23645"/>
<rect x="572" y="195" width="3" height="4" fill="#F23645"/>
<rect x="577" y="197" width="1" height="19" fill="#F23645"/>
<rect x="576" y="198" width="3" height="4" fill="#F23645"/>
<rect x="581" y="193" width="1" height="23" fill="#F23645"/>
<rect x="580" y="200" width="3" height="12" fill="#F23645"/>
<rect x="585" y="198" width="1" height="16" fill="#089981"/>
<rect x="584" y="200" width="3" height="12" fill="#089981"/>
<rect x="589" y="189" width="1" height="11" fill="#089981"/>
<rect x="588" y="193" width="3" height="7" fill="#089981"/>
<rect x="593" y="185" width="1" height="14" fill="#089981"/>
<rect x="592" y="192" width="3" height="1" fill="#089981"/>
<rect x="596" y="170" width="1" height="28" fill="#089981"/>
<rect x="595" y="176" width="3" height="17" fill="#089981"/>
<rect x="600" y="157" width="1" height="30" fill="#089981"/>
<rect x="599" y="158" width="3" height="19" fill="#089981"/>
<rect x="604" y="145" width="1" height="24" fill="#F23645"/>
<rect x="603" y="158" width="3" height="5" fill="#F23645"/>
<rect x="608" y="157" width="1" height="13" fill="#F23645"/>
<rect x="607" y="161" width="3" height="6" fill="#F23645"/>
<rect x="612" y="159" width="1" height="16" fill="#089981"/>
<rect x="611" y="166" width="3" height="1" fill="#089981"/>
<rect x="616" y="151" width="1" height="17" fill="#089981"/>
<rect x="615" y="158" width="3" height="9" fill="#089981"/>
<rect x="620" y="155" width="1" height="29" fill="#F23645"/>
<rect x="619" y="158" width="3" height="26" fill="#F23645"/>
<rect x="624" y="176" width="1" height="10" fill="#089981"/>
<rect x="623" y="180" width="3" height="3" fill="#089981"/>
<rect x="628" y="174" width="1" height="14" fill="#F23645"/>
<rect x="627" y="180" width="3" height="7" fill="#F23645"/>
<rect x="632" y="185" width="1" height="16" fill="#F23645"/>
<rect x="631" y="186" width="3" height="3" fill="#F23645"/>
<rect x="636" y="167" width="1" height="33" fill="#089981"/>
<rect x="635" y="168" width="3" height="22" fill="#089981"/>
<rect x="640" y="160" width="1" height="32" fill="#F23645"/>
<rect x="639" y="168" width="3" height="23" fill="#F23645"/>
<rect x="644" y="188" width="1" height="26" fill="#F23645"/>
<rect x="643" y="191" width="3" height="22" fill="#F23645"/>
<rect x="648" y="198" width="1" height="16" fill="#089981"/>
<rect x="647" y="200" width="3" height="13" fill="#089981"/>
<rect x="652" y="191" width="1" height="14" fill="#F23645"/>
<rect x="651" y="200" width="3" height="4" fill="#F23645"/>
<rect x="656" y="200" width="1" height="10" fill="#F23645"/>
<rect x="655" y="203" width="3" height="2" fill="#F23645"/>
<rect x="660" y="204" width="1" height="20" fill="#F23645"/>
<rect x="659" y="204" width="3" height="16" fill="#F23645"/>
<rect x="664" y="212" width="1" height="15" fill="#089981"/>
<rect x="663" y="218" width="3" height="1" fill="#089981"/>
<rect x="668" y="215" width="1" height="26" fill="#F23645"/>
<rect x="667" y="218" width="3" height="20" fill="#F23645"/>
<rect x="671" y="223" width="1" height="21" fill="#089981"/>
<rect x="670" y="228" width="3" height="10" fill="#089981"/>
<rect x="675" y="200" width="1" height="28" fill="#089981"/>
<rect x="674" y="201" width="3" height="27" fill="#089981"/>
<rect x="679" y="185" width="1" height="17" fill="#089981"/>
<rect x="678" y="200" width="3" height="1" fill="#089981"/>
<rect x="683" y="196" width="1" height="22" fill="#089981"/>
<rect x="682" y="200" width="3" height="1" fill="#089981"/>
<rect x="687" y="191" width="1" height="16" fill="#089981"/>
<rect x="686" y="192" width="3" height="9" fill="#089981"/>
<rect x="691" y="182" width="1" height="14" fill="#F23645"/>
<rect x="690" y="191" width="3" height="2" fill="#F23645"/>
<rect x="695" y="189" width="1" height="53" fill="#F23645"/>
<rect x="694" y="193" width="3" height="45" fill="#F23645"/>
<rect x="699" y="231" width="1" height="23" fill="#F23645"/>
<rect x="698" y="237" width="3" height="7" fill="#F23645"/>
<rect x="703" y="242" width="1" height="40" fill="#F23645"/>
<rect x="702" y="243" width="3" height="32" fill="#F23645"/>
<rect x="707" y="267" width="1" height="17" fill="#F23645"/>
<rect x="706" y="274" width="3" height="10" fill="#F23645"/>
<rect x="711" y="271" width="1" height="21" fill="#F23645"/>
<rect x="710" y="283" width="3" height="3" fill="#F23645"/>
<rect x="715" y="262" width="1" height="27" fill="#089981"/>
<rect x="714" y="264" width="3" height="22" fill="#089981"/>
<rect x="719" y="257" width="1" height="19" fill="#F23645"/>
<rect x="718" y="264" width="3" height="12" fill="#F23645"/>
<rect x="723" y="262" width="1" height="25" fill="#089981"/>
<rect x="722" y="270" width="3" height="6" fill="#089981"/>
<rect x="727" y="265" width="1" height="17" fill="#F23645"/>
<rect x="726" y="270" width="3" height="1" fill="#F23645"/>
<rect x="731" y="249" width="1" height="27" fill="#089981"/>
<rect x="730" y="253" width="3" height="18" fill="#089981"/>
<rect x="735" y="248" width="1" height="14" fill="#F23645"/>
<rect x="734" y="253" width="3" height="1" fill="#F23645"/>
<rect x="739" y="238" width="1" height="24" fill="#089981"/>
<rect x="738" y="242" width="3" height="12" fill="#089981"/>
<rect x="743" y="233" width="1" height="30" fill="#F23645"/>
<rect x="742" y="242" width="3" height="14" fill="#F23645"/>
<rect x="746" y="240" width="1" height="16" fill="#089981"/>
<rect x="745" y="244" width="3" height="12" fill="#089981"/>
<rect x="750" y="240" width="1" height="26" fill="#F23645"/>
<rect x="749" y="244" width="3" height="22" fill="#F23645"/>
<rect x="754" y="241" width="1" height="32" fill="#089981"/>
<rect x="753" y="247" width="3" height="19" fill="#089981"/>
<rect x="758" y="242" width="1" height="21" fill="#089981"/>
<rect x="757" y="244" width="3" height="4" fill="#089981"/>
<rect x="762" y="210" width="1" height="35" fill="#089981"/>
<rect x="761" y="230" width="3" height="14" fill="#089981"/>
<rect x="766" y="218" width="1" height="13" fill="#089981"/>
<rect x="765" y="228" width="3" height="2" fill="#089981"/>
<rect x="770" y="220" width="1" height="14" fill="#F23645"/>
<rect x="769" y="228" width="3" height="5" fill="#F23645"/>
<rect x="774" y="231" width="1" height="9" fill="#F23645"/>
<rect x="773" y="232" width="3" height="3" fill="#F23645"/>
<rect x="778" y="222" width="1" height="21" fill="#089981"/>
<rect x="777" y="222" width="3" height="13" fill="#089981"/>
<rect x="782" y="219" width="1" height="11" fill="#F23645"/>
<rect x="781" y="222" width="3" height="6" fill="#F23645"/>
<rect x="786" y="212" width="1" height="16" fill="#089981"/>
<rect x="785" y="219" width="3" height="9" fill="#089981"/>
<rect x="790" y="205" width="1" height="22" fill="#089981"/>
<rect x="789" y="207" width="3" height="13" fill="#089981"/>
<rect x="794" y="181" width="1" height="29" fill="#089981"/>
<rect x="793" y="182" width="3" height="27" fill="#089981"/>
<rect x="798" y="178" width="1" height="15" fill="#F23645"/>
<rect x="797" y="182" width="3" height="8" fill="#F23645"/>
<rect x="802" y="184" width="1" height="17" fill="#089981"/>
<rect x="801" y="188" width="3" height="1" fill="#089981"/>
<rect x="806" y="182" width="1" height="12" fill="#F23645"/>
<rect x="805" y="188" width="3" height="5" fill="#F23645"/>
<rect x="810" y="186" width="1" height="12" fill="#F23645"/>
<rect x="809" y="193" width="3" height="2" fill="#F23645"/>
<rect x="814" y="190" width="1" height="17" fill="#F23645"/>
<rect x="813" y="194" width="3" height="13" fill="#F23645"/>
<rect x="818" y="191" width="1" height="22" fill="#F23645"/>
<rect x="817" y="207" width="3" height="3" fill="#F23645"/>
<rect x="821" y="192" width="1" height="21" fill="#089981"/>
<rect x="820" y="197" width="3" height="13" fill="#089981"/>
<rect x="825" y="189" width="1" height="10" fill="#089981"/>
<rect x="824" y="192" width="3" height="6" fill="#089981"/>
<rect x="829" y="180" width="1" height="13" fill="#F23645"/>
<rect x="828" y="192" width="3" height="1" fill="#F23645"/>
<rect x="833" y="191" width="1" height="23" fill="#F23645"/>
<rect x="832" y="193" width="3" height="21" fill="#F23645"/>
<rect x="837" y="197" width="1" height="21" fill="#089981"/>
<rect x="836" y="202" width="3" height="12" fill="#089981"/>
<rect x="841" y="183" width="1" height="27" fill="#089981"/>
<rect x="840" y="196" width="3" height="7" fill="#089981"/>
<rect x="845" y="174" width="1" height="27" fill="#089981"/>
<rect x="844" y="174" width="3" height="23" fill="#089981"/>
<rect x="849" y="170" width="1" height="22" fill="#F23645"/>
<rect x="848" y="174" width="3" height="11" fill="#F23645"/>
<rect x="853" y="180" width="1" height="13" fill="#F23645"/>
<rect x="852" y="184" width="3" height="5" fill="#F23645"/>
<rect x="857" y="175" width="1" height="16" fill="#089981"/>
<rect x="856" y="180" width="3" height="9" fill="#089981"/>
<rect x="861" y="175" width="1" height="39" fill="#F23645"/>
<rect x="860" y="180" width="3" height="34" fill="#F23645"/>
<rect x="865" y="214" width="1" height="27" fill="#F23645"/>
<rect x="864" y="214" width="3" height="14" fill="#F23645"/>
<rect x="869" y="225" width="1" height="21" fill="#F23645"/>
<rect x="868" y="228" width="3" height="11" fill="#F23645"/>
<rect x="873" y="194" width="1" height="46" fill="#089981"/>
<rect x="872" y="211" width="3" height="28" fill="#089981"/>
<rect x="877" y="208" width="1" height="32" fill="#F23645"/>
<rect x="876" y="211" width="3" height="29" fill="#F23645"/>
<rect x="881" y="236" width="1" height="30" fill="#F23645"/>
<rect x="880" y="239" width="3" height="13" fill="#F23645"/>
<rect x="885" y="239" width="1" height="19" fill="#089981"/>
<rect x="884" y="240" width="3" height="11" fill="#089981"/>
<rect x="889" y="230" width="1" height="20" fill="#089981"/>
<rect x="888" y="238" width="3" height="2" fill="#089981"/>
<rect x="892" y="233" width="1" height="11" fill="#089981"/>
<rect x="891" y="237" width="3" height="2" fill="#089981"/>
<rect x="896" y="234" width="1" height="20" fill="#F23645"/>
<rect x="895" y="237" width="3" height="17" fill="#F23645"/>
<rect x="900" y="245" width="1" height="19" fill="#F23645"/>
<rect x="899" y="254" width="3" height="2" fill="#F23645"/>
<rect x="904" y="236" width="1" height="23" fill="#089981"/>
<rect x="903" y="240" width="3" height="16" fill="#089981"/>
<rect x="908" y="236" width="1" height="20" fill="#F23645"/>
<rect x="907" y="240" width="3" height="8" fill="#F23645"/>
<rect x="912" y="246" width="1" height="20" fill="#F23645"/>
<rect x="911" y="248" width="3" height="14" fill="#F23645"/>
<rect x="916" y="243" width="1" height="19" fill="#089981"/>
<rect x="915" y="252" width="3" height="10" fill="#089981"/>
<rect x="920" y="244" width="1" height="15" fill="#089981"/>
<rect x="919" y="248" width="3" height="5" fill="#089981"/>
<rect x="924" y="224" width="1" height="26" fill="#089981"/>
<rect x="923" y="238" width="3" height="11" fill="#089981"/>
<rect x="928" y="235" width="1" height="15" fill="#089981"/>
<rect x="927" y="236" width="3" height="3" fill="#089981"/>
<rect x="932" y="208" width="1" height="31" fill="#089981"/>
<rect x="931" y="218" width="3" height="18" fill="#089981"/>
<rect x="936" y="209" width="1" height="11" fill="#089981"/>
<rect x="935" y="210" width="3" height="10" fill="#089981"/>
<rect x="940" y="198" width="1" height="16" fill="#089981"/>
<rect x="939" y="200" width="3" height="11" fill="#089981"/>
<rect x="944" y="198" width="1" height="15" fill="#F23645"/>
<rect x="943" y="200" width="3" height="6" fill="#F23645"/>
<rect x="948" y="202" width="1" height="11" fill="#F23645"/>
<rect x="947" y="204" width="3" height="6" fill="#F23645"/>
<rect x="952" y="203" width="1" height="7" fill="#089981"/>
<rect x="951" y="203" width="3" height="6" fill="#089981"/>
<rect x="956" y="177" width="1" height="27" fill="#089981"/>
<rect x="955" y="188" width="3" height="16" fill="#089981"/>
<rect x="960" y="172" width="1" height="18" fill="#089981"/>
<rect x="959" y="173" width="3" height="17" fill="#089981"/>
<rect x="964" y="167" width="1" height="15" fill="#F23645"/>
<rect x="963" y="173" width="3" height="6" fill="#F23645"/>
<rect x="967" y="175" width="1" height="11" fill="#089981"/>
<rect x="966" y="177" width="3" height="1" fill="#089981"/>
<rect x="971" y="157" width="1" height="20" fill="#089981"/>
<rect x="970" y="161" width="3" height="16" fill="#089981"/>
<rect x="975" y="160" width="1" height="18" fill="#F23645"/>
<rect x="974" y="161" width="3" height="16" fill="#F23645"/>
<rect x="979" y="176" width="1" height="9" fill="#F23645"/>
<rect x="978" y="177" width="3" height="7" fill="#F23645"/>
<rect x="983" y="175" width="1" height="11" fill="#089981"/>
<rect x="982" y="180" width="3" height="4" fill="#089981"/>
<rect x="987" y="177" width="1" height="20" fill="#F23645"/>
<rect x="986" y="180" width="3" height="15" fill="#F23645"/>
<rect x="991" y="189" width="1" height="16" fill="#F23645"/>
<rect x="990" y="194" width="3" height="5" fill="#F23645"/>
<rect x="995" y="188" width="1" height="15" fill="#089981"/>
<rect x="994" y="197" width="3" height="2" fill="#089981"/>
<rect x="999" y="188" width="1" height="10" fill="#089981"/>
<rect x="998" y="193" width="3" height="4" fill="#089981"/>
<rect x="1003" y="188" width="1" height="26" fill="#F23645"/>
<rect x="1002" y="193" width="3" height="15" fill="#F23645"/>
<rect x="1007" y="201" width="1" height="14" fill="#F23645"/>
<rect x="1006" y="206" width="3" height="4" fill="#F23645"/>
<rect x="1011" y="196" width="1" height="17" fill="#089981"/>
<rect x="1010" y="205" width="3" height="5" fill="#089981"/>
<rect x="1015" y="201" width="1" height="22" fill="#F23645"/>
<rect x="1014" y="205" width="3" height="14" fill="#F23645"/>
<rect x="1019" y="166" width="1" height="56" fill="#089981"/>
<rect x="1018" y="171" width="3" height="48" fill="#089981"/>
<rect x="1023" y="140" width="1" height="39" fill="#089981"/>
<rect x="1022" y="156" width="3" height="16" fill="#089981"/>
<rect x="1027" y="152" width="1" height="23" fill="#F23645"/>
<rect x="1026" y="156" width="3" height="9" fill="#F23645"/>
<rect x="1031" y="162" width="1" height="12" fill="#F23645"/>
<rect x="1030" y="164" width="3" height="4" fill="#F23645"/>
<rect x="1035" y="159" width="1" height="23" fill="#F23645"/>
<rect x="1034" y="167" width="3" height="3" fill="#F23645"/>
<rect x="1039" y="164" width="1" height="9" fill="#F23645"/>
<rect x="1038" y="169" width="3" height="1" fill="#F23645"/>
<rect x="1042" y="161" width="1" height="10" fill="#089981"/>
<rect x="1041" y="164" width="3" height="6" fill="#089981"/>
<rect x="1046" y="138" width="1" height="32" fill="#089981"/>
<rect x="1045" y="140" width="3" height="25" fill="#089981"/>
<rect x="1050" y="119" width="1" height="24" fill="#089981"/>
<rect x="1049" y="133" width="3" height="8" fill="#089981"/>
<rect x="1054" y="132" width="1" height="25" fill="#F23645"/>
<rect x="1053" y="132" width="3" height="16" fill="#F23645"/>
<rect x="1058" y="126" width="1" height="22" fill="#089981"/>
<rect x="1057" y="128" width="3" height="20" fill="#089981"/>
<rect x="1062" y="104" width="1" height="24" fill="#089981"/>
<rect x="1061" y="104" width="3" height="24" fill="#089981"/>
<rect x="1066" y="87" width="1" height="22" fill="#089981"/>
<rect x="1065" y="87" width="3" height="18" fill="#089981"/>
<rect x="1070" y="70" width="1" height="29" fill="#089981"/>
<rect x="1069" y="80" width="3" height="8" fill="#089981"/>
<rect x="1074" y="74" width="1" height="25" fill="#F23645"/>
<rect x="1073" y="80" width="3" height="15" fill="#F23645"/>
<rect x="1078" y="60" width="1" height="37" fill="#089981"/>
<rect x="1077" y="64" width="3" height="31" fill="#089981"/>
<rect x="1082" y="59" width="1" height="19" fill="#F23645"/>
<rect x="1081" y="64" width="3" height="12" fill="#F23645"/>
<rect x="1086" y="64" width="1" height="15" fill="#089981"/>
<rect x="1085" y="66" width="3" height="10" fill="#089981"/>
<rect x="1090" y="66" width="1" height="31" fill="#F23645"/>
<rect x="1089" y="66" width="3" height="26" fill="#F23645"/>
<rect x="1094" y="83" width="1" height="33" fill="#F23645"/>
<rect x="1093" y="91" width="3" height="17" fill="#F23645"/>
<rect x="1098" y="101" width="1" height="19" fill="#F23645"/>
<rect x="1097" y="108" width="3" height="11" fill="#F23645"/>
<rect x="1102" y="107" width="1" height="13" fill="#089981"/>
<rect x="1101" y="110" width="3" height="10" fill="#089981"/>
<rect x="1106" y="109" width="1" height="18" fill="#F23645"/>
<rect x="1105" y="110" width="3" height="12" fill="#F23645"/>
<rect x="1110" y="101" width="1" height="21" fill="#089981"/>
<rect x="1109" y="106" width="3" height="16" fill="#089981"/>
<rect x="1114" y="91" width="1" height="18" fill="#089981"/>
<rect x="1113" y="95" width="3" height="11" fill="#089981"/>
<rect x="1117" y="77" width="1" height="34" fill="#F23645"/>
<rect x="1116" y="95" width="3" height="11" fill="#F23645"/>
<rect x="1121" y="102" width="1" height="23" fill="#F23645"/>
<rect x="1120" y="105" width="3" height="20" fill="#F23645"/>
<rect x="1125" y="118" width="1" height="14" fill="#F23645"/>
<rect x="1124" y="124" width="3" height="7" fill="#F23645"/>
<rect x="1129" y="117" width="1" height="20" fill="#F23645"/>
<rect x="1128" y="130" width="3" height="4" fill="#F23645"/>
<rect x="1133" y="108" width="1" height="27" fill="#089981"/>
<rect x="1132" y="109" width="3" height="25" fill="#089981"/>
<rect x="1137" y="98" width="1" height="12" fill="#089981"/>
<rect x="1136" y="108" width="3" height="1" fill="#089981"/>
<rect x="1141" y="84" width="1" height="25" fill="#089981"/>
<rect x="1140" y="86" width="3" height="23" fill="#089981"/>
<rect x="1145" y="81" width="1" height="13" fill="#F23645"/>
<rect x="1144" y="86" width="3" height="8" fill="#F23645"/>
<rect x="1149" y="64" width="1" height="36" fill="#089981"/>
<rect x="1148" y="91" width="3" height="3" fill="#089981"/>
<rect x="1153" y="68" width="1" height="43" fill="#089981"/>
<rect x="1152" y="75" width="3" height="17" fill="#089981"/>
<rect x="1157" y="67" width="1" height="18" fill="#089981"/>
<rect x="1156" y="74" width="3" height="1" fill="#089981"/>
<rect x="1161" y="72" width="1" height="33" fill="#F23645"/>
<rect x="1160" y="74" width="3" height="21" fill="#F23645"/>
<rect x="1165" y="67" width="1" height="30" fill="#089981"/>
<rect x="1164" y="68" width="3" height="27" fill="#089981"/>
<rect x="1169" y="55" width="1" height="35" fill="#F23645"/>
<rect x="1168" y="68" width="3" height="18" fill="#F23645"/>
<rect x="1173" y="64" width="1" height="24" fill="#089981"/>
<rect x="1172" y="69" width="3" height="18" fill="#089981"/>
<rect x="1177" y="59" width="1" height="24" fill="#F23645"/>
<rect x="1176" y="69" width="3" height="5" fill="#F23645"/>
<rect x="1181" y="57" width="1" height="34" fill="#F23645"/>
<rect x="1180" y="74" width="3" height="11" fill="#F23645"/>
<rect x="1185" y="82" width="1" height="37" fill="#F23645"/>
<rect x="1184" y="85" width="3" height="27" fill="#F23645"/>
<rect x="1189" y="105" width="1" height="19" fill="#F23645"/>
<rect x="1188" y="111" width="3" height="9" fill="#F23645"/>
<rect x="1192" y="118" width="1" height="16" fill="#F23645"/>
<rect x="1191" y="120" width="3" height="6" fill="#F23645"/>
<rect x="1196" y="123" width="1" height="33" fill="#F23645"/>
<rect x="1195" y="125" width="3" height="23" fill="#F23645"/>
<rect x="1200" y="142" width="1" height="12" fill="#089981"/>
<rect x="1199" y="146" width="3" height="3" fill="#089981"/>
<rect x="1204" y="139" width="1" height="13" fill="#089981"/>
<rect x="1203" y="145" width="3" height="3" fill="#089981"/>
<rect x="1208" y="145" width="1" height="17" fill="#F23645"/>
<rect x="1207" y="145" width="3" height="17" fill="#F23645"/>
<rect x="1212" y="155" width="1" height="21" fill="#F23645"/>
<rect x="1211" y="162" width="3" height="3" fill="#F23645"/>
<rect x="1216" y="155" width="1" height="11" fill="#089981"/>
<rect x="1215" y="162" width="3" height="3" fill="#089981"/>
<rect x="1220" y="162" width="1" height="19" fill="#F23645"/>
<rect x="1219" y="162" width="3" height="12" fill="#F23645"/>
<rect x="1224" y="170" width="1" height="12" fill="#F23645"/>
<rect x="1223" y="173" width="3" height="7" fill="#F23645"/>
<rect x="1228" y="175" width="1" height="19" fill="#F23645"/>
<rect x="1227" y="179" width="3" height="13" fill="#F23645"/>
<rect x="1232" y="186" width="1" height="24" fill="#F23645"/>
<rect x="1231" y="191" width="3" height="13" fill="#F23645"/>
<rect x="1236" y="188" width="1" height="17" fill="#089981"/>
<rect x="1235" y="189" width="3" height="14" fill="#089981"/>
<rect x="1240" y="187" width="1" height="23" fill="#F23645"/>
<rect x="1239" y="189" width="3" height="21" fill="#F23645"/>
<rect x="1244" y="200" width="1" height="18" fill="#F23645"/>
<rect x="1243" y="209" width="3" height="6" fill="#F23645"/>
<rect x="1248" y="212" width="1" height="18" fill="#F23645"/>
<rect x="1247" y="214" width="3" height="9" fill="#F23645"/>
<rect x="1252" y="203" width="1" height="23" fill="#089981"/>
<rect x="1251" y="204" width="3" height="19" fill="#089981"/>
<rect x="1256" y="200" width="1" height="17" fill="#F23645"/>
<rect x="1255" y="204" width="3" height="13" fill="#F23645"/>
<rect x="1260" y="204" width="1" height="18" fill="#089981"/>
<rect x="1259" y="210" width="3" height="7" fill="#089981"/>
<rect x="1264" y="204" width="1" height="23" fill="#089981"/>
<rect x="1263" y="208" width="3" height="2" fill="#089981"/>
<rect x="1267" y="187" width="1" height="24" fill="#089981"/>
<rect x="1266" y="193" width="3" height="16" fill="#089981"/>
<rect x="1271" y="181" width="1" height="16" fill="#089981"/>
<rect x="1270" y="182" width="3" height="12" fill="#089981"/>
<rect x="1275" y="174" width="1" height="29" fill="#F23645"/>
<rect x="1274" y="182" width="3" height="21" fill="#F23645"/>
<rect x="1279" y="170" width="1" height="33" fill="#089981"/>
<rect x="1278" y="184" width="3" height="19" fill="#089981"/>
<rect x="1283" y="162" width="1" height="25" fill="#089981"/>
<rect x="1282" y="166" width="3" height="20" fill="#089981"/>
<rect x="1287" y="162" width="1" height="98" fill="#F23645"/>
<rect x="1286" y="166" width="3" height="75" fill="#F23645"/>
<rect x="1291" y="206" width="1" height="42" fill="#089981"/>
<rect x="1290" y="214" width="3" height="27" fill="#089981"/>
<rect x="1295" y="212" width="1" height="46" fill="#F23645"/>
<rect x="1294" y="214" width="3" height="33" fill="#F23645"/>
<rect x="1299" y="243" width="1" height="37" fill="#F23645"/>
<rect x="1298" y="246" width="3" height="25" fill="#F23645"/>
<rect x="1303" y="268" width="1" height="26" fill="#F23645"/>
<rect x="1302" y="271" width="3" height="13" fill="#F23645"/>
<rect x="1307" y="271" width="1" height="38" fill="#F23645"/>
<rect x="1306" y="283" width="3" height="25" fill="#F23645"/>
<rect x="1311" y="299" width="1" height="32" fill="#F23645"/>
<rect x="1310" y="307" width="3" height="17" fill="#F23645"/>
<rect x="1315" y="295" width="1" height="29" fill="#089981"/>
<rect x="1314" y="321" width="3" height="3" fill="#089981"/>
<rect x="1319" y="289" width="1" height="30" fill="#089981"/>
<rect x="1318" y="295" width="3" height="21" fill="#089981"/>
<rect x="1323" y="292" width="1" height="29" fill="#089981"/>
<rect x="1322" y="294" width="3" height="1" fill="#089981"/>
<rect x="1327" y="288" width="1" height="40" fill="#F23645"/>
<rect x="1326" y="295" width="3" height="21" fill="#F23645"/>
<rect x="1331" y="309" width="1" height="35" fill="#F23645"/>
<rect x="1330" y="316" width="3" height="24" fill="#F23645"/>
<rect x="1335" y="331" width="1" height="64" fill="#F23645"/>
<rect x="1334" y="339" width="3" height="26" fill="#F23645"/>
<rect x="1339" y="319" width="1" height="44" fill="#089981"/>
<rect x="1338" y="334" width="3" height="29" fill="#089981"/>
<rect x="1342" y="313" width="1" height="47" fill="#F23645"/>
<rect x="1341" y="334" width="3" height="5" fill="#F23645"/>
<rect x="1346" y="297" width="1" height="44" fill="#089981"/>
<rect x="1345" y="305" width="3" height="34" fill="#089981"/>
<rect x="1350" y="304" width="1" height="16" fill="#F23645"/>
<rect x="1349" y="305" width="3" height="5" fill="#F23645"/>
<rect x="1354" y="293" width="1" height="21" fill="#089981"/>
<rect x="1353" y="299" width="3" height="11" fill="#089981"/>
<rect x="1358" y="301" width="1" height="45" fill="#F23645"/>
<rect x="1357" y="301" width="3" height="31" fill="#F23645"/>
<rect x="1362" y="317" width="1" height="21" fill="#089981"/>
<rect x="1361" y="327" width="3" height="5" fill="#089981"/>
<rect x="1366" y="314" width="1" height="27" fill="#089981"/>
<rect x="1365" y="326" width="3" height="2" fill="#089981"/>
<rect x="1370" y="296" width="1" height="32" fill="#089981"/>
<rect x="1369" y="298" width="3" height="29" fill="#089981"/>
<rect x="1374" y="280" width="1" height="34" fill="#F23645"/>
<rect x="1373" y="298" width="3" height="8" fill="#F23645"/>
<rect x="1378" y="295" width="1" height="23" fill="#F23645"/>
<rect x="1377" y="305" width="3" height="7" fill="#F23645"/>
<rect x="1382" y="305" width="1" height="26" fill="#F23645"/>
<rect x="1381" y="311" width="3" height="9" fill="#F23645"/>
<rect x="1386" y="315" width="1" height="22" fill="#F23645"/>
<rect x="1385" y="321" width="3" height="13" fill="#F23645"/>
<rect x="1390" y="319" width="1" height="26" fill="#F23645"/>
<rect x="1389" y="333" width="3" height="11" fill="#F23645"/>
<rect x="1394" y="322" width="1" height="27" fill="#089981"/>
<rect x="1393" y="332" width="3" height="12" fill="#089981"/>
<rect x="1398" y="321" width="1" height="19" fill="#089981"/>
<rect x="1397" y="328" width="3" height="3" fill="#089981"/>
<rect x="1402" y="325" width="1" height="14" fill="#F23645"/>
<rect x="1401" y="328" width="3" height="8" fill="#F23645"/>
<rect x="1406" y="326" width="1" height="64" fill="#F23645"/>
<rect x="1405" y="335" width="3" height="49" fill="#F23645"/>
<rect x="1410" y="361" width="1" height="29" fill="#089981"/>
<rect x="1409" y="382" width="3" height="2" fill="#089981"/>
<rect x="1414" y="370" width="1" height="22" fill="#089981"/>
<rect x="1413" y="371" width="3" height="11" fill="#089981"/>
</g>
<line x1="13" y1="370.5" x2="1587" y2="370.5" stroke="#089981" stroke-width="1" stroke-dasharray="1 2"/>
<line x1="766" y1="393.5" x2="1590" y2="393.5" stroke="#2962FF" stroke-width="3" stroke-linecap="round" clip-path="url(#cp)"/>
<text x="973" y="371.8" font-size="34.5" fill="#2962FF" font-family="Liberation Sans, sans-serif" textLength="205.5" lengthAdjust="spacingAndGlyphs">Two-Year low</text>
<g clip-path="url(#cr)"><polyline points="12.09,548.88 16.04,562.90 19.99,560.83 23.93,571.05 27.88,573.30 31.83,573.65 35.78,560.16 39.72,578.02 43.67,567.35 47.62,585.73 51.56,589.40 55.51,575.79 59.46,546.84 63.41,530.00 67.35,558.35 71.30,576.80 75.25,569.06 79.19,587.17 83.14,584.52 87.09,592.09 91.04,588.71 94.98,566.81 98.93,564.93 102.88,572.79 106.82,594.94 110.77,588.33 114.72,572.81 118.67,576.37 122.61,581.98 126.56,582.05 130.51,585.95 134.46,600.98 138.40,605.44 142.35,621.01 146.30,586.40 150.24,583.25 154.19,605.28 158.14,608.09 162.09,588.59 166.03,570.96 169.98,554.88 173.93,561.19 177.87,545.57 181.82,540.32 185.77,568.49 189.72,572.74 193.66,553.18 197.61,548.08 201.56,559.95 205.50,542.97 209.45,538.93 213.40,514.96 217.35,540.27 221.29,548.58 225.24,549.26 229.19,548.41 233.14,530.22 237.08,543.94 241.03,545.48 244.98,527.53 248.92,496.85 252.87,502.31 256.82,511.19 260.77,506.99 264.71,524.85 268.66,517.45 272.61,513.47 276.55,471.60 280.50,486.25 284.45,485.31 288.40,473.50 292.34,467.66 296.29,479.40 300.24,489.63 304.18,485.49 308.13,476.95 312.08,474.30 316.03,467.85 319.97,476.00 323.92,512.96 327.87,514.02 331.82,531.45 335.76,544.42 339.71,554.01 343.66,541.13 347.60,552.13 351.55,550.45 355.50,538.87 359.45,511.45 363.39,484.97 367.34,518.04 371.29,512.35 375.23,499.23 379.18,513.88 383.13,498.41 387.08,496.26 391.02,496.26 394.97,489.89 398.92,476.85 402.86,493.14 406.81,501.51 410.76,502.85 414.71,534.17 418.65,541.09 422.60,532.09 426.55,535.85 430.50,530.04 434.44,539.42 438.39,527.08 442.34,524.45 446.28,532.71 450.23,531.36 454.18,560.85 458.13,555.78 462.07,560.43 466.02,548.44 469.97,553.40 473.91,564.92 477.86,551.12 481.81,565.08 485.76,558.71 489.70,567.07 493.65,558.67 497.60,572.50 501.54,542.66 505.49,568.58 509.44,582.00 513.39,574.21 517.33,568.05 521.28,565.05 525.23,562.04 529.18,566.82 533.12,587.59 537.07,576.63 541.02,555.95 544.96,553.98 548.91,552.04 552.86,538.02 556.81,534.07 560.75,532.13 564.70,530.98 568.65,518.03 572.59,524.01 576.54,528.13 580.49,542.82 584.44,526.95 588.38,517.73 592.33,515.88 596.28,496.38 600.22,478.64 604.17,487.38 608.12,494.70 612.07,493.70 616.01,485.06 619.96,527.75 623.91,523.28 627.86,533.83 631.80,536.46 635.75,508.40 639.70,540.57 643.64,563.62 647.59,547.62 651.54,551.26 655.49,552.78 659.43,567.79 663.38,565.44 667.33,583.92 671.27,569.09 675.22,535.95 679.17,534.63 683.12,534.63 687.06,525.03 691.01,526.81 694.96,574.52 698.90,579.30 702.85,601.05 706.80,606.08 710.75,607.32 714.69,577.53 718.64,586.00 722.59,579.09 726.54,579.73 730.48,556.57 734.43,557.64 738.38,542.58 742.32,557.37 746.27,542.76 750.22,563.92 754.17,542.08 758.11,538.96 762.06,524.82 766.01,522.65 769.95,529.15 773.90,531.93 777.85,517.18 781.80,525.26 785.74,515.21 789.69,502.88 793.64,481.63 797.58,492.37 801.53,491.26 805.48,499.15 809.43,501.02 813.37,519.31 817.32,523.37 821.27,508.97 825.22,503.28 829.16,504.81 833.11,537.05 837.06,521.19 841.00,514.61 844.95,492.08 848.90,508.02 852.85,513.31 856.79,504.42 860.74,546.73 864.69,560.45 868.63,569.60 872.58,537.97 876.53,562.97 880.48,571.26 884.42,558.74 888.37,556.50 892.32,555.48 896.26,569.93 900.21,572.41 904.16,552.46 908.11,560.15 912.05,571.49 916.00,559.47 919.95,554.89 923.90,542.17 927.84,539.65 931.79,520.06 935.74,511.45 939.68,501.85 943.63,510.77 947.58,515.80 951.53,508.79 955.47,493.48 959.42,480.26 963.37,490.20 967.31,488.10 971.26,474.60 975.21,500.11 979.16,510.35 983.10,506.01 987.05,526.84 991.00,532.16 994.94,529.24 998.89,523.78 1002.84,544.90 1006.79,547.10 1010.73,540.31 1014.68,558.75 1018.63,502.49 1022.58,490.50 1026.52,501.97 1030.47,505.62 1034.42,508.87 1038.36,508.36 1042.31,502.52 1046.26,480.70 1050.21,475.20 1054.15,498.83 1058.10,481.68 1062.05,466.12 1065.99,456.54 1069.94,452.91 1073.89,474.29 1077.84,457.30 1081.78,472.57 1085.73,467.22 1089.68,497.69 1093.62,514.06 1097.57,525.36 1101.52,517.59 1105.47,529.15 1109.41,516.08 1113.36,507.42 1117.31,518.78 1121.26,536.96 1125.20,542.55 1129.15,545.77 1133.10,522.04 1137.04,521.25 1140.99,502.82 1144.94,511.22 1148.89,509.19 1152.83,496.15 1156.78,495.28 1160.73,520.44 1164.67,498.44 1168.62,518.56 1172.57,504.85 1176.52,510.71 1180.46,522.43 1184.41,546.40 1188.36,553.76 1192.30,557.84 1196.25,575.17 1200.20,572.90 1204.15,570.97 1208.09,583.64 1212.04,585.96 1215.99,582.07 1219.94,591.41 1223.88,595.55 1227.83,604.09 1231.78,611.84 1235.72,589.15 1239.67,603.26 1243.62,606.33 1247.57,611.70 1251.51,583.05 1255.46,592.38 1259.41,583.62 1263.35,580.64 1267.30,559.85 1271.25,546.12 1275.20,565.95 1279.14,544.88 1283.09,526.79 1287.04,581.86 1290.98,558.93 1294.93,577.05 1298.88,587.95 1302.83,593.65 1306.77,603.56 1310.72,609.46 1314.67,606.48 1318.62,583.16 1322.56,581.73 1326.51,592.52 1330.46,603.23 1334.40,612.92 1338.35,585.47 1342.30,587.45 1346.25,560.24 1350.19,562.81 1354.14,554.67 1358.09,573.05 1362.03,569.27 1365.98,568.32 1369.93,545.36 1373.88,551.02 1377.82,554.51 1381.77,560.58 1385.72,569.54 1389.66,576.26 1393.61,563.89 1397.56,559.89 1401.51,565.66 1405.45,595.46 1409.40,593.20 1413.35,580.91" fill="none" stroke="#9B51C6" stroke-width="1.2" stroke-linejoin="round"/></g>
<rect x="1346.5" y="537" width="78" height="71" fill="none" stroke="#9C27B0" stroke-width="2"/>
<line x1="13" y1="430.5" x2="1661" y2="430.5" stroke="#E0E3EB" stroke-width="1"/>
<text x="1597.6" y="26.5" font-size="14" fill="#131722" font-family="Liberation Sans, sans-serif" textLength="51.6" lengthAdjust="spacingAndGlyphs">1.13000</text>
<text x="1597.6" y="65.5" font-size="14" fill="#131722" font-family="Liberation Sans, sans-serif" textLength="51.6" lengthAdjust="spacingAndGlyphs">1.12000</text>
<text x="1597.6" y="104.5" font-size="14" fill="#131722" font-family="Liberation Sans, sans-serif" textLength="51.6" lengthAdjust="spacingAndGlyphs">1.11000</text>
<text x="1597.6" y="142.5" font-size="14" fill="#131722" font-family="Liberation Sans, sans-serif" textLength="51.6" lengthAdjust="spacingAndGlyphs">1.10000</text>
<text x="1597.6" y="181.5" font-size="14" fill="#131722" font-family="Liberation Sans, sans-serif" textLength="51.6" lengthAdjust="spacingAndGlyphs">1.09000</text>
<text x="1597.6" y="220.5" font-size="14" fill="#131722" font-family="Liberation Sans, sans-serif" textLength="51.6" lengthAdjust="spacingAndGlyphs">1.08000</text>
<text x="1597.6" y="258.5" font-size="14" fill="#131722" font-family="Liberation Sans, sans-serif" textLength="51.6" lengthAdjust="spacingAndGlyphs">1.07000</text>
<text x="1597.6" y="297.5" font-size="14" fill="#131722" font-family="Liberation Sans, sans-serif" textLength="51.6" lengthAdjust="spacingAndGlyphs">1.06000</text>
<text x="1597.6" y="336.5" font-size="14" fill="#131722" font-family="Liberation Sans, sans-serif" textLength="51.6" lengthAdjust="spacingAndGlyphs">1.05000</text>
<text x="1597.6" y="374.5" font-size="14" fill="#131722" font-family="Liberation Sans, sans-serif" textLength="51.6" lengthAdjust="spacingAndGlyphs">1.04000</text>
<text x="1597.6" y="413.5" font-size="14" fill="#131722" font-family="Liberation Sans, sans-serif" textLength="51.6" lengthAdjust="spacingAndGlyphs">1.03000</text>
<g clip-path="url(#cax)">
<text x="1597.6" y="440.5" font-size="14" fill="#131722" font-family="Liberation Sans, sans-serif" textLength="36" lengthAdjust="spacingAndGlyphs">80.00</text>
<text x="1597.6" y="507.5" font-size="14" fill="#131722" font-family="Liberation Sans, sans-serif" textLength="36" lengthAdjust="spacingAndGlyphs">60.00</text>
<text x="1597.6" y="574.5" font-size="14" fill="#131722" font-family="Liberation Sans, sans-serif" textLength="36" lengthAdjust="spacingAndGlyphs">40.00</text>
<text x="1597.6" y="640.5" font-size="14" fill="#131722" font-family="Liberation Sans, sans-serif" textLength="36" lengthAdjust="spacingAndGlyphs">20.00</text>
</g>
<path d="M1587,173.3 H1655 Q1657,173.3 1657,175.3 V191.8 Q1657,193.8 1655,193.8 H1587 Z" fill="#2196F3"/><text x="1598" y="188.55" font-size="14" fill="#fff" stroke="#fff" stroke-width="0.35" font-family="Liberation Sans, sans-serif" textLength="51.6" lengthAdjust="spacingAndGlyphs">1.08820</text>
<path d="M1587,207.1 H1655 Q1657,207.1 1657,209.1 V225.6 Q1657,227.6 1655,227.6 H1587 Z" fill="#43A047"/><text x="1598" y="222.35" font-size="14" fill="#fff" stroke="#fff" stroke-width="0.35" font-family="Liberation Sans, sans-serif" textLength="51.6" lengthAdjust="spacingAndGlyphs">1.07932</text>
<path d="M1587,272 H1655 Q1657,272 1657,274 V290.8 Q1657,292.8 1655,292.8 H1587 Z" fill="#FF6D00"/><text x="1598" y="287.4" font-size="14" fill="#fff" stroke="#fff" stroke-width="0.35" font-family="Liberation Sans, sans-serif" textLength="51.6" lengthAdjust="spacingAndGlyphs">1.06269</text>
<path d="M1587,321 H1655 Q1657,321 1657,323 V340 Q1657,342 1655,342 H1587 Z" fill="#C2185B"/><text x="1598" y="336.5" font-size="14" fill="#fff" stroke="#fff" stroke-width="0.35" font-family="Liberation Sans, sans-serif" textLength="51.6" lengthAdjust="spacingAndGlyphs">1.04983</text>
<path d="M1587,360 H1655 Q1657,360 1657,362 V378.5 Q1657,380.5 1655,380.5 H1587 Z" fill="#089981"/><text x="1598" y="375.25" font-size="14" fill="#fff" stroke="#fff" stroke-width="0.35" font-family="Liberation Sans, sans-serif" textLength="51.6" lengthAdjust="spacingAndGlyphs">1.03977</text>
<path d="M1587,383 H1655 Q1657,383 1657,385 V402 Q1657,404 1655,404 H1587 Z" fill="#2962FF"/><text x="1598" y="398.5" font-size="14" fill="#fff" stroke="#fff" stroke-width="0.35" font-family="Liberation Sans, sans-serif" textLength="51.6" lengthAdjust="spacingAndGlyphs">1.03388</text>
<path d="M1587,572 H1639 Q1641,572 1641,574 V590.5 Q1641,592.5 1639,592.5 H1587 Z" fill="#9B51C6"/><text x="1598" y="587.25" font-size="14" fill="#fff" stroke="#fff" stroke-width="0.35" font-family="Liberation Sans, sans-serif" textLength="36" lengthAdjust="spacingAndGlyphs">36.26</text>
<g clip-path="url(#ct)">
<text x="71.5" y="661.7" font-size="14" fill="#131722" text-anchor="middle" font-family="Liberation Sans, sans-serif">Sep</text>
<text x="241.5" y="661.7" font-size="14" fill="#131722" text-anchor="middle" font-family="Liberation Sans, sans-serif">Nov</text>
<text x="411.5" y="661.7" font-size="14" fill="#131722" text-anchor="middle" font-weight="bold" textLength="34" lengthAdjust="spacingAndGlyphs" font-family="Liberation Sans, sans-serif">2024</text>
<text x="585.5" y="661.7" font-size="14" fill="#131722" text-anchor="middle" font-family="Liberation Sans, sans-serif">Mar</text>
<text x="754.5" y="661.7" font-size="14" fill="#131722" text-anchor="middle" font-family="Liberation Sans, sans-serif">May</text>
<text x="924.5" y="661.7" font-size="14" fill="#131722" text-anchor="middle" font-family="Liberation Sans, sans-serif">Jul</text>
<text x="1102.5" y="661.7" font-size="14" fill="#131722" text-anchor="middle" font-family="Liberation Sans, sans-serif">Sep</text>
<text x="1275.5" y="661.7" font-size="14" fill="#131722" text-anchor="middle" font-family="Liberation Sans, sans-serif">Nov</text>
<text x="1461.5" y="661.7" font-size="14" fill="#131722" text-anchor="middle" font-weight="bold" textLength="34" lengthAdjust="spacingAndGlyphs" font-family="Liberation Sans, sans-serif">2025</text>
<text x="1583.5" y="661.7" font-size="14" fill="#131722" text-anchor="middle" font-family="Liberation Sans, sans-serif">Feb</text>
</g>
<text x="23.3" y="37.7" font-size="14" fill="#131722" font-family="Liberation Sans, sans-serif" textLength="121" lengthAdjust="spacingAndGlyphs">EUR/USD Spot, 1D</text>
<text x="154" y="37.7" font-size="14" fill="#131722" font-family="Liberation Sans, sans-serif">O</text>
<text x="164.8" y="37.7" font-size="14" fill="#089981" font-family="Liberation Sans, sans-serif" textLength="50.2" lengthAdjust="spacingAndGlyphs">1.03681</text>
<text x="226" y="37.7" font-size="14" fill="#131722" font-family="Liberation Sans, sans-serif">H</text>
<text x="236.4" y="37.7" font-size="14" fill="#089981" font-family="Liberation Sans, sans-serif" textLength="51.1" lengthAdjust="spacingAndGlyphs">1.03985</text>
<text x="297.4" y="37.7" font-size="14" fill="#131722" font-family="Liberation Sans, sans-serif">L</text>
<text x="305.6" y="37.7" font-size="14" fill="#089981" font-family="Liberation Sans, sans-serif" textLength="50.5" lengthAdjust="spacingAndGlyphs">1.03431</text>
<text x="366.9" y="37.7" font-size="14" fill="#131722" font-family="Liberation Sans, sans-serif">C</text>
<text x="376.7" y="37.7" font-size="14" fill="#089981" font-family="Liberation Sans, sans-serif" textLength="51.1" lengthAdjust="spacingAndGlyphs">1.03977</text>
<text x="437.6" y="37.7" font-size="14" fill="#089981" font-family="Liberation Sans, sans-serif" textLength="121.4" lengthAdjust="spacingAndGlyphs">+0.00296 (+0.29%)</text>
<text x="23.3" y="58.5" font-size="14" fill="#131722" font-family="Liberation Sans, sans-serif" textLength="130.7" lengthAdjust="spacingAndGlyphs">EMA Cross (50, 200)</text>
<text x="164.8" y="58.5" font-size="14" fill="#FF6D00" font-family="Liberation Sans, sans-serif" textLength="51.4" lengthAdjust="spacingAndGlyphs">1.06269</text>
<text x="226.6" y="58.5" font-size="14" fill="#43A047" font-family="Liberation Sans, sans-serif" textLength="51" lengthAdjust="spacingAndGlyphs">1.07932</text>
<text x="288.4" y="58.5" font-size="14" fill="#131722" font-family="Liberation Sans, sans-serif">ø</text>
<text x="23.3" y="79.5" font-size="14" fill="#131722" font-family="Liberation Sans, sans-serif" textLength="120" lengthAdjust="spacingAndGlyphs">EMA (20, close, 0)</text>
<text x="153.7" y="79.5" font-size="14" fill="#C2185B" font-family="Liberation Sans, sans-serif" textLength="51.4" lengthAdjust="spacingAndGlyphs">1.04983</text>
<text x="23.4" y="455.7" font-size="14" fill="#131722" font-family="Liberation Sans, sans-serif" textLength="50.2" lengthAdjust="spacingAndGlyphs">RSI (14)</text>
<text x="83.6" y="455.7" font-size="14" fill="#9B51C6" font-family="Liberation Sans, sans-serif" textLength="36.4" lengthAdjust="spacingAndGlyphs">36.26</text>
<g fill="#131722"><path d="M13.2,690.1 H22.6 V701.7 H18 V694 H13.2 Z"/><circle cx="26.9" cy="692.4" r="2.6"/><path d="M32.4,690.1 H37.1 L32.7,701.7 H27.2 Z"/></g>
<text x="41.9" y="701.8" font-size="14.7" fill="#131722" font-family="Liberation Sans, sans-serif" textLength="87.6" lengthAdjust="spacingAndGlyphs">TradingView</text>
</svg></body></html>
